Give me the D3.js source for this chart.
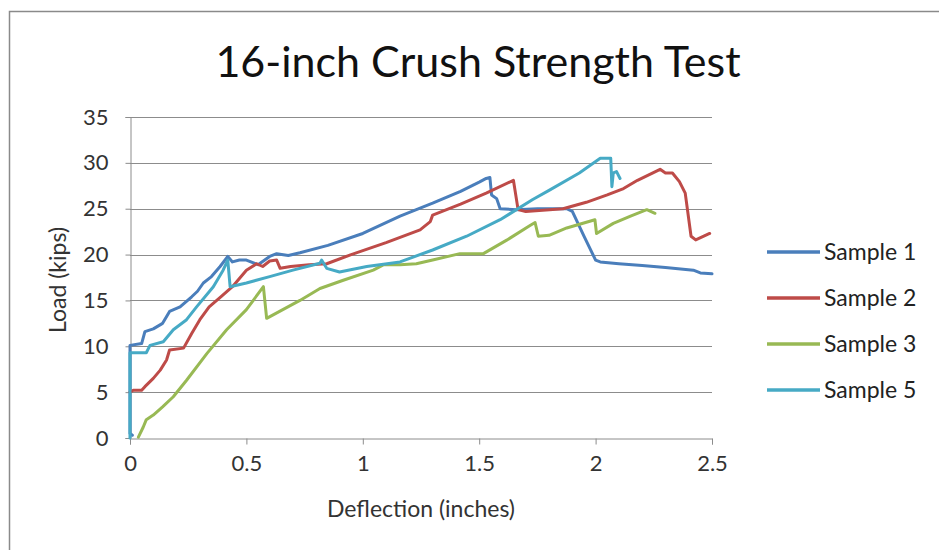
<!DOCTYPE html>
<html>
<head>
<meta charset="utf-8">
<script src="https://cdn.jsdelivr.net/npm/d3@7"></script>
<style>
  html, body { margin: 0; padding: 0; background: #fff; }
  svg { display: block; font-family: Lato, "Open Sans", sans-serif; }
</style>
</head>
<body>
<svg id="chart" width="939" height="550"></svg>
<script>
// Load–deflection readings, [deflection (in), load (kips)]
const sample1 = [
  [0.01,0.3],[0,0.5],[0,10.1],[0.05,10.3],[0.064,11.6],[0.1,11.9],[0.14,12.5],[0.17,13.8],[0.215,14.3],
  [0.265,15.4],[0.29,16.0],[0.315,16.9],[0.35,17.6],[0.387,18.7],[0.42,19.8],[0.44,19.2],[0.47,19.4],
  [0.5,19.4],[0.55,18.9],[0.6,19.8],[0.63,20.1],[0.68,19.9],[0.73,20.2],[0.85,21.0],[1.0,22.3],
  [1.16,24.2],[1.3,25.6],[1.42,26.9],[1.5,27.9],[1.53,28.3],[1.546,28.4],[1.553,26.5],[1.575,26.1],
  [1.59,25.0],[1.66,24.9],[1.75,25.0],[1.876,25.0],[1.90,24.7],[1.95,22.0],[2.0,19.4],[2.02,19.2],
  [2.1,19.0],[2.2,18.8],[2.3,18.6],[2.42,18.3],[2.45,18.0],[2.5,17.9]
];
const sample2 = [
  [0,5.0],[0.014,5.2],[0.05,5.2],[0.064,5.6],[0.1,6.5],[0.13,7.4],[0.157,8.5],[0.17,9.6],[0.23,9.8],
  [0.265,11.4],[0.3,12.9],[0.34,14.3],[0.39,15.4],[0.44,16.5],[0.5,18.3],[0.544,19.0],[0.57,18.7],
  [0.6,19.3],[0.63,19.4],[0.645,18.5],[0.69,18.7],[0.77,18.9],[0.845,19.0],[0.95,20.0],[1.1,21.3],
  [1.246,22.7],[1.29,23.6],[1.30,24.3],[1.42,25.5],[1.53,26.7],[1.647,28.1],[1.667,24.9],[1.70,24.7],
  [1.86,25.0],[1.96,25.7],[2.05,26.5],[2.12,27.2],[2.18,28.1],[2.277,29.3],[2.30,28.9],[2.33,28.9],
  [2.36,27.95],[2.385,26.7],[2.41,22.0],[2.43,21.6],[2.49,22.3]
];
const sample3 = [
  [0.036,0.1],[0.057,1.2],[0.07,2.0],[0.1,2.5],[0.14,3.4],[0.186,4.5],[0.243,6.3],[0.33,9.2],
  [0.415,11.8],[0.5,14.0],[0.573,16.5],[0.587,13.05],[0.7,14.6],[0.73,15.0],[0.816,16.3],[0.916,17.2],
  [1.045,18.3],[1.09,18.9],[1.16,18.9],[1.23,19.0],[1.30,19.4],[1.417,20.1],[1.518,20.1],[1.62,21.6],
  [1.72,23.2],[1.74,23.5],[1.754,22.0],[1.80,22.1],[1.876,22.9],[1.997,23.8],[2.004,22.3],[2.076,23.4],
  [2.15,24.2],[2.22,24.9],[2.255,24.5]
];
const sample5 = [
  [0,0],[0,9.3],[0.07,9.3],[0.086,10.1],[0.143,10.5],[0.186,11.8],[0.243,12.9],[0.286,14.3],
  [0.358,16.5],[0.40,18.3],[0.42,19.4],[0.43,16.5],[0.5,16.9],[0.6,17.6],[0.7,18.3],[0.816,19.05],
  [0.823,19.4],[0.845,18.5],[0.90,18.1],[1.017,18.7],[1.16,19.2],[1.30,20.5],[1.446,22.0],[1.59,23.8],
  [1.73,26.0],[1.80,27.0],[1.93,28.9],[2.02,30.5],[2.065,30.5],[2.07,27.4],[2.076,28.9],[2.09,29.05],
  [2.105,28.3]
];

const seriesNames = ["Sample 1", "Sample 2", "Sample 3", "Sample 5"];
const seriesData = [sample1, sample2, sample3, sample5];
const seriesColors = ["#4a7ebb", "#be4b48", "#98b954", "#46aac5"];

const xTicks = [0, 0.5, 1, 1.5, 2, 2.5];
const yTicks = [0, 5, 10, 15, 20, 25, 30, 35];

const svg = d3.select("#chart");
const plot = { left: 130, right: 712, top: 117, bottom: 438 };
const fontStack = "Lato, 'Open Sans', sans-serif";

const x = d3.scaleLinear().domain([0, 2.5]).range([plot.left, plot.right]);
const y = d3.scaleLinear().domain([0, 35]).range([plot.bottom, plot.top]);

// outer chart frame
svg.append("rect")
  .attr("x", 9.5).attr("y", 11.5)
  .attr("width", 960).attr("height", 600)
  .attr("fill", "#fff").attr("stroke", "#8a8a8a").attr("stroke-width", 1.5);

// title
svg.append("text")
  .attr("x", 478).attr("y", 77)
  .attr("text-anchor", "middle")
  .attr("font-size", 43)
  .attr("fill", "#111")
  .text("16-inch Crush Strength Test");

// horizontal gridlines
svg.append("g")
  .selectAll("line")
  .data(yTicks.filter(d => d > 0))
  .join("line")
  .attr("x1", plot.left).attr("x2", plot.right)
  .attr("y1", d => Math.round(y(d)) + 0.5).attr("y2", d => Math.round(y(d)) + 0.5)
  .attr("stroke", "#8c8c8c").attr("stroke-width", 1);

// y axis
const yAxis = svg.append("g")
  .attr("transform", `translate(${plot.left + 0.5},0)`)
  .call(d3.axisLeft(y).tickValues(yTicks).tickSize(5).tickPadding(17).tickFormat(d3.format("d")));
yAxis.attr("font-family", fontStack).attr("font-size", 22);
yAxis.select(".domain").attr("stroke", "#8c8c8c");
yAxis.selectAll(".tick line").attr("stroke", "#8c8c8c");
yAxis.selectAll(".tick text").attr("fill", "#333");

// x axis
const xAxis = svg.append("g")
  .attr("transform", `translate(0,${plot.bottom + 0.5})`)
  .call(d3.axisBottom(x).tickValues(xTicks).tickSize(6).tickPadding(11).tickFormat(d => String(d)));
xAxis.attr("font-family", fontStack).attr("font-size", 22);
xAxis.select(".domain").attr("stroke", "#8c8c8c");
xAxis.selectAll(".tick line").attr("stroke", "#8c8c8c");
xAxis.selectAll(".tick text").attr("fill", "#333");

// axis titles
svg.append("text")
  .attr("transform", "translate(66,280) rotate(-90)")
  .attr("text-anchor", "middle")
  .attr("font-size", 23).attr("fill", "#333")
  .text("Load (kips)");
svg.append("text")
  .attr("x", 421).attr("y", 517)
  .attr("text-anchor", "middle")
  .attr("font-size", 23).attr("fill", "#333")
  .text("Deflection (inches)");

// series lines
const line = d3.line().x(d => x(d[0])).y(d => y(d[1])).curve(d3.curveLinear);
svg.append("g")
  .selectAll("path")
  .data(seriesData)
  .join("path")
  .attr("d", line)
  .attr("fill", "none")
  .attr("stroke", (d, i) => seriesColors[i])
  .attr("stroke-width", 3)
  .attr("stroke-linejoin", "round")
  .attr("stroke-linecap", "round");

// legend
const legend = svg.append("g")
  .selectAll("g")
  .data(seriesNames)
  .join("g")
  .attr("transform", (d, i) => `translate(767,${252 + i * 46})`);
legend.append("line")
  .attr("x1", 0).attr("x2", 53)
  .attr("stroke", (d, i) => seriesColors[i])
  .attr("stroke-width", 3.5);
legend.append("text")
  .attr("x", 57).attr("dy", "0.35em")
  .attr("font-size", 23).attr("fill", "#222")
  .text(d => d);
</script>
</body>
</html>
